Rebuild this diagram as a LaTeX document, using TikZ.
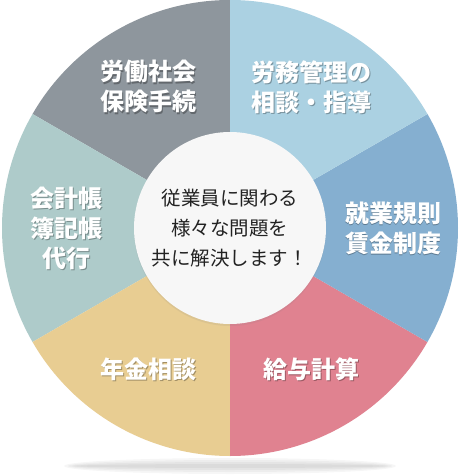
\documentclass[tikz,border=0pt]{standalone}
\usepackage{fontspec}
\newfontfamily\cjk{Noto Sans CJK JP}
\usetikzlibrary{shadows, calc}
\definecolor{slgray}{HTML}{8E969D}
\definecolor{sllight}{HTML}{ABD1E2}
\definecolor{slblue}{HTML}{85AFD0}
\definecolor{slpink}{HTML}{E08290}
\definecolor{sltan}{HTML}{E8CD92}
\definecolor{slteal}{HTML}{AECBCA}
\definecolor{hubwhite}{HTML}{F7F7F7}
\definecolor{hubtext}{HTML}{222222}

\begin{document}
\begin{tikzpicture}[
    x=1pt, y=1pt,
    lbl/.style={text=white, font=\cjk\bfseries\fontsize{24}{30}\selectfont, align=center},
    lblshadow/.style={lbl, text=black, opacity=0.3},
    hub/.style={circle, fill=hubwhite, minimum size=192pt, inner sep=0pt, align=center, text=hubtext, font=\cjk\fontsize{19.5}{30}\selectfont, drop shadow={opacity=0.12, shadow xshift=0pt, shadow yshift=-2pt}}
]
\useasboundingbox (-230,-248) rectangle (232,228);
\fill[white] (-230,-248) rectangle (232,228);

% shadow under the wheel
\foreach \r in {2,4,6,8}
  \fill[black, opacity=0.035] (0,-238) ellipse [x radius=150+2*\r, y radius=\r];

% six slices
\foreach \a/\col in {90/slgray, 150/slteal, 210/sltan, 270/slpink, 330/slblue, 30/sllight}
  \fill[\col] (0,0) -- (\a:228) arc[start angle=\a, end angle=\a+60, radius=228] -- cycle;

% slice labels
\foreach \a/\txt/\nm in {120/{労働社会\\保険手続}/hoken, 60/{労務管理の\\相談・指導}/roumu, 0/{就業規則\\賃金制度}/kisoku,
    -60/{給与計算}/kyuyo, -120/{年金相談}/nenkin, 180/{会計帳\\簿記帳\\代行}/kaikei} {
  \node[lblshadow] (\nm-s) at ($(\a:163)+(0.8,-1.2)$) {\txt};
  \node[lbl] (\nm) at (\a:163) {\txt};
}

% centre
\node[hub] (hub) at (0,0) {従業員に関わる\\様々な問題を\\共に解決します！};
\end{tikzpicture}
\end{document}
